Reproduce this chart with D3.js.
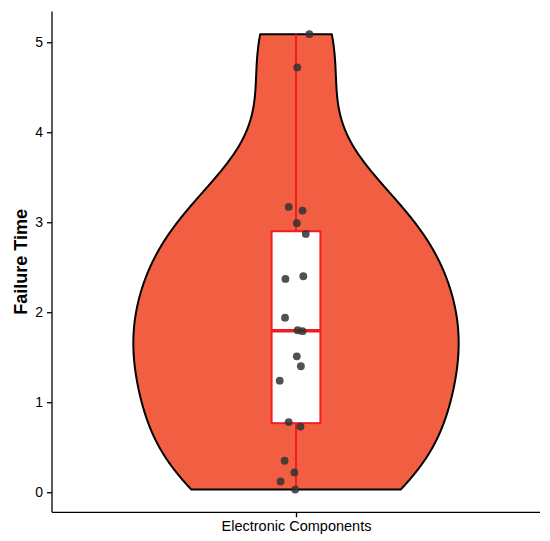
<!DOCTYPE html>
<html>
<head>
<meta charset="utf-8">
<script src="https://cdn.jsdelivr.net/npm/d3@7"></script>
<style>
  body { margin: 0; background: #fff; }
  svg text { font-family: "Liberation Sans", Arial, sans-serif; }
</style>
</head>
<body>
<svg id="chart"></svg>
<script>
// failure times, with their horizontal jitter (category units)
const category = "Electronic Components";
const failureTimes = [5.09, 4.72, 3.17, 3.13, 2.99, 2.87, 2.37, 2.40, 1.94, 1.80,
                      1.79, 1.51, 1.40, 1.24, 0.78, 0.73, 0.35, 0.22, 0.12, 0.03];
const jitterX = [0.033, 0.003, -0.018, 0.016, 0.002, 0.024, -0.026, 0.018, -0.027, 0.004,
                 0.016, 0.002, 0.012, -0.040, -0.018, 0.011, -0.028, -0.004, -0.038, -0.002];
const yTicks = [0, 1, 2, 3, 4, 5];

const width = 550;
const height = 541;
const marginTop = 11.4;
const marginBottom = 28.7;
const marginLeft = 52;
const marginRight = 10;

const svg = d3.select("#chart")
  .attr("width", width)
  .attr("height", height)
  .attr("viewBox", [0, 0, width, height]);

// y scale with ggplot style 5% expansion
const yMin = d3.min(failureTimes);
const yMax = d3.max(failureTimes);
const pad = (yMax - yMin) * 0.05;
const y = d3.scaleLinear()
  .domain([yMin - pad, yMax + pad])
  .range([height - marginBottom, marginTop]);

// discrete x: one category at 1, expanded by 0.6 each side
const x = d3.scaleLinear()
  .domain([0.4, 1.6])
  .range([marginLeft, width - marginRight]);

// violin: gaussian kde, bw.nrd0, trimmed to data range
const sorted = failureTimes.slice().sort(d3.ascending);
const n = sorted.length;
const sd = d3.deviation(sorted);
const q1 = d3.quantile(sorted, 0.25);
const med = d3.quantile(sorted, 0.5);
const q3 = d3.quantile(sorted, 0.75);
const bw = 0.9 * Math.min(sd, (q3 - q1) / 1.34) * Math.pow(n, -0.2);
const grid = d3.range(512).map((i) => yMin + (yMax - yMin) * i / 511);
const dens = grid.map((g) => {
  const s = d3.sum(sorted, (v) => Math.exp(-0.5 * ((g - v) / bw) ** 2));
  return { v: g, d: s / (n * bw * Math.sqrt(2 * Math.PI)) };
});
const dMax = d3.max(dens, (e) => e.d);
const violinWidth = 0.8;
const half = (e) => (e.d / dMax) * violinWidth / 2;

const outline = dens.map((e) => [x(1 - half(e)), y(e.v)])
  .concat(dens.slice().reverse().map((e) => [x(1 + half(e)), y(e.v)]));

svg.append("path")
  .attr("d", d3.line()(outline) + "Z")
  .attr("fill", "#F15E42")
  .attr("stroke", "#000")
  .attr("stroke-width", 2)
  .attr("stroke-linejoin", "round");

// boxplot
const iqr = q3 - q1;
const lowW = d3.min(sorted.filter((v) => v >= q1 - 1.5 * iqr));
const highW = d3.max(sorted.filter((v) => v <= q3 + 1.5 * iqr));
const boxWidth = 0.12;
const red = "#EE1D24";

const box = svg.append("g");
box.append("line")
  .attr("x1", x(1)).attr("x2", x(1))
  .attr("y1", y(highW)).attr("y2", y(q3))
  .attr("stroke", red).attr("stroke-width", 2);
box.append("line")
  .attr("x1", x(1)).attr("x2", x(1))
  .attr("y1", y(q1)).attr("y2", y(lowW))
  .attr("stroke", red).attr("stroke-width", 2);
box.append("rect")
  .attr("x", x(1 - boxWidth / 2))
  .attr("width", x(1 + boxWidth / 2) - x(1 - boxWidth / 2))
  .attr("y", y(q3))
  .attr("height", y(q1) - y(q3))
  .attr("fill", "#fff")
  .attr("stroke", red)
  .attr("stroke-width", 2);
box.append("line")
  .attr("x1", x(1 - boxWidth / 2)).attr("x2", x(1 + boxWidth / 2))
  .attr("y1", y(med)).attr("y2", y(med))
  .attr("stroke", red).attr("stroke-width", 3.6);

// jittered points
svg.append("g")
  .selectAll("circle")
  .data(failureTimes)
  .join("circle")
  .attr("cx", (d, i) => x(1 + jitterX[i]))
  .attr("cy", (d) => y(d))
  .attr("r", 3.9)
  .attr("fill", "#333")
  .attr("fill-opacity", 0.85);

// y axis
svg.append("g")
  .attr("transform", `translate(${marginLeft},0)`)
  .call(d3.axisLeft(y).tickValues(yTicks).tickSize(5).tickPadding(4).tickFormat(d3.format("d")))
  .call((g) => g.select(".domain").attr("d", `M0,${y.range()[1]}V${y.range()[0]}`))
  .call((g) => g.selectAll("path, line").attr("stroke", "#000").attr("stroke-width", 1.3))
  .call((g) => g.selectAll("text").attr("fill", "#000").attr("font-size", 14));

// x axis
svg.append("g")
  .attr("transform", `translate(0,${height - marginBottom})`)
  .call(d3.axisBottom(x).tickValues([1]).tickSize(5).tickPadding(3).tickFormat(() => category))
  .call((g) => g.select(".domain").attr("d", `M${marginLeft},0H${width - marginRight}`))
  .call((g) => g.selectAll("path, line").attr("stroke", "#000").attr("stroke-width", 1.3))
  .call((g) => g.selectAll("text").attr("fill", "#000").attr("font-size", 14.5));

// y title
svg.append("text")
  .attr("transform", `translate(27,${(marginTop + height - marginBottom) / 2}) rotate(-90)`)
  .attr("text-anchor", "middle")
  .attr("font-size", 18)
  .attr("font-weight", "bold")
  .attr("fill", "#000")
  .text("Failure Time");
</script>
</body>
</html>
